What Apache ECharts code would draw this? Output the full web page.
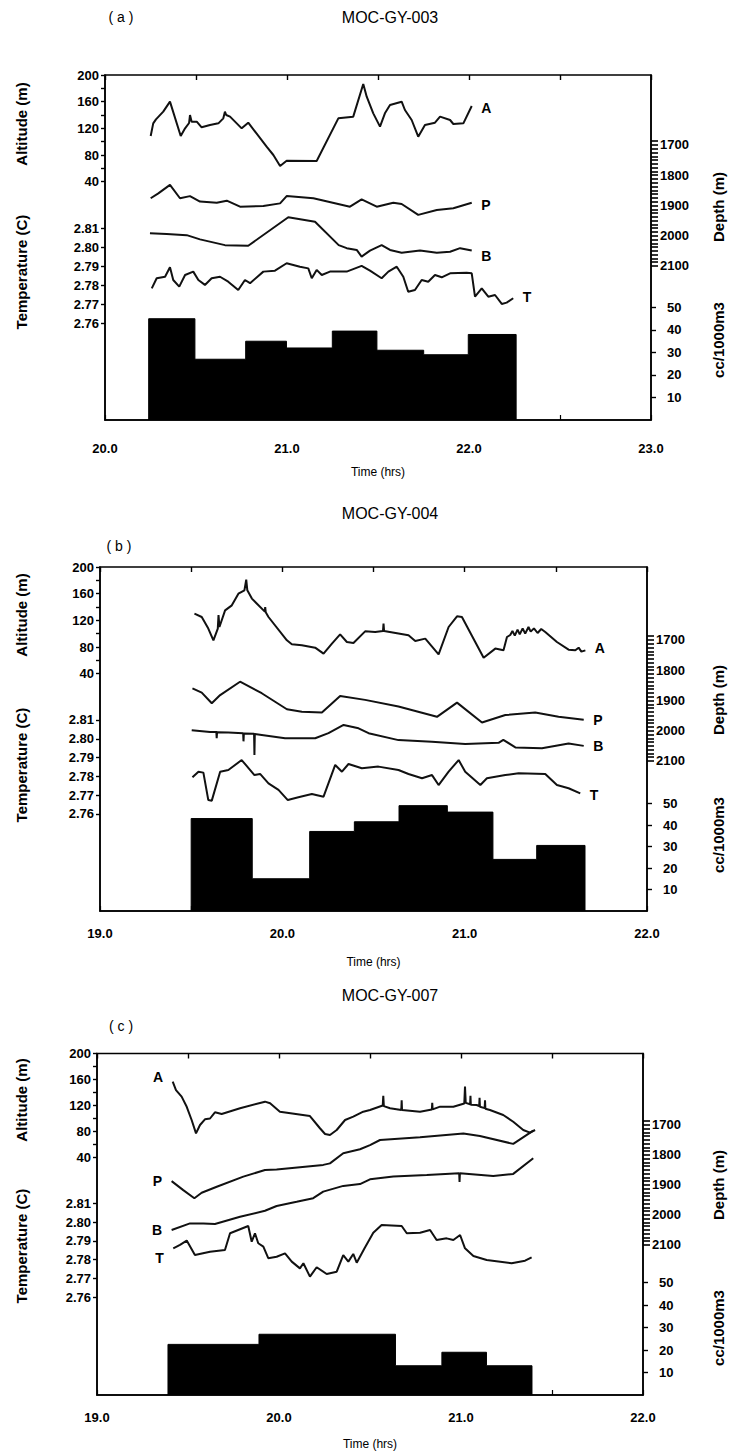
<!DOCTYPE html>
<html><head><meta charset="utf-8">
<script src="https://cdn.jsdelivr.net/npm/echarts@6/dist/echarts.min.js"></script>
<style>html,body{margin:0;padding:0;background:#fff}#c{width:734px;height:1454px}</style>
</head><body><div id="c"></div>
<script>
// ---------------- DATA (time in hrs, values in axis units) ----------------
// Panel (a) MOC-GY-003
const aAltitude = [[20.251,108.5],[20.265,127.5],[20.280,133.5],[20.320,145],[20.357,160],[20.416,108.5],[20.440,120],[20.462,128],[20.467,140],[20.476,130],[20.504,130],[20.531,121.5],[20.577,125],[20.623,127.5],[20.650,135],[20.659,145],[20.666,140],[20.687,137.5],[20.751,120],[20.787,128.5],[20.888,92.5],[20.925,80],[20.962,63.5],[20.998,71.5],[21.163,71],[21.282,135],[21.364,137.5],[21.419,186.5],[21.438,167.5],[21.474,142.5],[21.511,122.5],[21.538,142.5],[21.566,155],[21.630,160],[21.648,147.5],[21.685,132.5],[21.721,107.5],[21.758,125],[21.813,128.5],[21.841,137.5],[21.896,132.5],[21.914,126.5],[21.969,127.5],[22.015,153.5]];
const aDepthP = [[20.251,1876],[20.293,1860],[20.357,1832],[20.412,1876],[20.467,1869],[20.522,1887],[20.614,1891],[20.669,1884],[20.742,1904],[20.870,1902],[20.962,1893],[20.998,1869],[21.145,1876],[21.346,1904],[21.410,1880],[21.493,1904],[21.584,1891],[21.630,1895],[21.721,1931],[21.823,1915],[21.914,1909],[22.015,1891]];
const aDepthB = [[20.247,1992],[20.339,1994],[20.449,1998],[20.522,2012],[20.659,2031],[20.787,2033],[21.007,1939],[21.154,1954],[21.284,2031],[21.328,2041],[21.383,2047],[21.410,2069],[21.456,2049],[21.520,2031],[21.566,2047],[21.630,2056],[21.731,2049],[21.823,2056],[21.896,2053],[21.951,2041],[22.015,2049]];
const aTemp = [[20.257,2.7784],[20.284,2.7837],[20.330,2.7845],[20.357,2.7895],[20.375,2.7828],[20.408,2.7793],[20.440,2.7854],[20.485,2.7872],[20.513,2.7828],[20.549,2.7802],[20.586,2.7837],[20.632,2.7845],[20.677,2.7819],[20.732,2.7775],[20.769,2.7828],[20.797,2.7811],[20.870,2.7872],[20.934,2.7877],[20.998,2.7916],[21.071,2.7898],[21.117,2.7889],[21.136,2.7837],[21.163,2.7881],[21.191,2.7854],[21.236,2.7872],[21.328,2.7872],[21.410,2.7902],[21.456,2.7877],[21.520,2.7837],[21.557,2.7872],[21.603,2.7898],[21.639,2.7845],[21.666,2.7766],[21.703,2.7775],[21.740,2.7828],[21.776,2.7819],[21.813,2.7854],[21.850,2.7842],[21.896,2.7863],[21.987,2.7866],[22.015,2.7863],[22.033,2.7740],[22.070,2.7784],[22.106,2.7740],[22.143,2.7749],[22.180,2.7702],[22.207,2.7709],[22.243,2.7732]];
const aBarEdges = [20.24,20.494,20.773,20.997,21.249,21.494,21.751,21.996,22.259];
const aBarValues = [45,27,35,32,39.5,31,29,38];

// Panel (b) MOC-GY-004
const bAltitude = [[19.518,130],[19.558,125],[19.594,107.6],[19.622,90],[19.646,107.6],[19.650,128],[19.655,110],[19.686,135],[19.723,142.5],[19.759,160],[19.792,165],[19.802,181],[19.808,165],[19.833,152.6],[19.904,133],[19.906,140],[19.909,132],[19.924,125],[20.025,90],[20.052,84],[20.107,82.5],[20.180,79],[20.226,70],[20.272,85],[20.317,99],[20.354,87.5],[20.390,86],[20.454,103.5],[20.509,102.5],[20.552,104],[20.555,115],[20.558,104],[20.692,97.5],[20.729,89],[20.784,92.6],[20.857,69],[20.912,110],[20.958,126],[20.985,125],[21.058,87.5],[21.104,64],[21.168,77.6],[21.213,75],[21.232,95],[21.250,98],[21.262,104],[21.275,97],[21.290,106],[21.302,99],[21.318,108],[21.332,100],[21.350,110],[21.362,103],[21.380,108],[21.400,101],[21.420,107],[21.442,102.5],[21.506,87.5],[21.570,76],[21.607,75],[21.625,79],[21.640,73],[21.662,75]];
const bDepthP = [[19.507,1860],[19.558,1874],[19.613,1909],[19.659,1882],[19.768,1838],[19.887,1876],[20.025,1929],[20.107,1937],[20.217,1940],[20.317,1885],[20.454,1898],[20.637,1920],[20.848,1954],[20.958,1907],[21.095,1973],[21.223,1948],[21.387,1940],[21.515,1954],[21.653,1964]];
const bDepthB = [[19.503,1998],[19.604,2004],[19.638,2004],[19.640,2025],[19.642,2005],[19.704,2006],[19.785,2008],[19.787,2035],[19.789,2009],[19.845,2010],[19.847,2080],[19.849,2011],[19.887,2014],[20.015,2025],[20.180,2025],[20.253,2008],[20.336,1981],[20.418,1992],[20.473,2008],[20.637,2031],[20.820,2036],[21.003,2044],[21.186,2040],[21.212,2030],[21.278,2055],[21.424,2058],[21.570,2042],[21.653,2050]];
const bTemp = [[19.507,2.7795],[19.540,2.7825],[19.567,2.7820],[19.594,2.7674],[19.613,2.7671],[19.659,2.7825],[19.704,2.7834],[19.777,2.7887],[19.847,2.7807],[19.878,2.7813],[19.924,2.7763],[19.979,2.7728],[20.030,2.7674],[20.088,2.7689],[20.162,2.7706],[20.226,2.7692],[20.290,2.7861],[20.327,2.7825],[20.363,2.7866],[20.436,2.7843],[20.527,2.7852],[20.637,2.7834],[20.692,2.7813],[20.766,2.7790],[20.821,2.7807],[20.857,2.7754],[20.912,2.7825],[20.967,2.7887],[21.003,2.7825],[21.086,2.7754],[21.122,2.7790],[21.223,2.7807],[21.296,2.7817],[21.442,2.7813],[21.506,2.7754],[21.570,2.7737],[21.634,2.7710]];
const bBarEdges = [19.5,19.835,20.15,20.395,20.64,20.905,21.155,21.395,21.66];
const bBarValues = [43,15,37,41.5,49,46,24,30.5];

// Panel (c) MOC-GY-007
const cAltitude = [[19.416,156.6],[19.434,143.8],[19.465,133.6],[19.493,118],[19.520,97.7],[19.544,77.2],[19.566,90],[19.593,98.7],[19.621,100],[19.648,109.5],[19.685,107],[19.786,115.7],[19.923,125.9],[19.951,123.4],[20.005,110.5],[20.170,103.8],[20.225,85],[20.253,76.2],[20.280,74.6],[20.317,82.3],[20.363,97.7],[20.408,102.8],[20.463,110.5],[20.500,113],[20.570,120],[20.573,135],[20.576,119],[20.610,115.7],[20.672,113],[20.674,128],[20.676,113],[20.775,110.5],[20.840,114],[20.842,124],[20.844,114],[20.885,118.2],[20.958,118.2],[21.018,123],[21.022,149],[21.026,124],[21.050,122],[21.052,135],[21.054,121],[21.086,120.8],[21.100,119],[21.102,132],[21.104,118],[21.130,116],[21.132,128],[21.134,115],[21.159,113],[21.232,105.4],[21.287,95],[21.342,82.3],[21.379,78.2],[21.407,82.3]];
const cDepthP = [[19.410,1887],[19.474,1917],[19.535,1944],[19.575,1926],[19.658,1906],[19.804,1872],[19.923,1850],[19.987,1848],[20.243,1833],[20.280,1828],[20.353,1794],[20.445,1781],[20.500,1767],[20.555,1750],[20.775,1741],[21.013,1728],[21.104,1737],[21.287,1763],[21.397,1719]];
const cDepthB = [[19.410,2050],[19.511,2028],[19.584,2028],[19.648,2030],[19.786,2006],[19.923,1986],[19.987,1970],[20.097,1956],[20.188,1944],[20.243,1922],[20.353,1903],[20.445,1897],[20.500,1881],[20.628,1872],[20.812,1867],[20.990,1861],[20.992,1890],[20.994,1861],[21.177,1870],[21.287,1863],[21.397,1811]];
const cTemp = [[19.419,2.7860],[19.456,2.7878],[19.493,2.7901],[19.538,2.7824],[19.621,2.7842],[19.703,2.7851],[19.731,2.7940],[19.831,2.7979],[19.850,2.7895],[19.868,2.7940],[19.886,2.7887],[19.914,2.7869],[19.941,2.7807],[19.987,2.7815],[20.033,2.7833],[20.070,2.7789],[20.115,2.7753],[20.134,2.7780],[20.170,2.7709],[20.207,2.7759],[20.262,2.7723],[20.317,2.7735],[20.353,2.7824],[20.381,2.7789],[20.408,2.7830],[20.427,2.7783],[20.470,2.7860],[20.518,2.7943],[20.564,2.7984],[20.674,2.7979],[20.702,2.7940],[20.775,2.7943],[20.830,2.7958],[20.866,2.7904],[20.921,2.7913],[20.958,2.7904],[20.995,2.7931],[21.022,2.7860],[21.068,2.7819],[21.141,2.7798],[21.278,2.7780],[21.352,2.7794],[21.388,2.7812]];
const cBarEdges = [19.39,19.89,20.64,20.895,21.14,21.39];
const cBarValues = [22.5,27,13,19,13];

// Tick labels
const altLabels = [40,80,120,160,200];
const altTicks = [40,60,80,100,120,140,160,180,200];
const tempLabels = [2.76,2.77,2.78,2.79,2.80,2.81];
const depthLabels = [1700,1800,1900,2000,2100];
const depthTicks = []; for (let d = 1687.5; d <= 2100.01; d += 12.5) depthTicks.push(d);
const ccLabels = [10,20,30,40,50];
const aTimeLabels = [20,21,22,23];
const bcTimeLabels = [19,20,21,22];
const titles = ['MOC-GY-003','MOC-GY-004','MOC-GY-007'];
const tags = ['( a )','( b )','( c )'];

// ---------------- LAYOUT ----------------
const FF = '"Liberation Sans", Arial, Helvetica, sans-serif';
const panels = [
  {left:105, top:75, width:546, height:345, x:[20,23], timeLabels:aTimeLabels, labelMargin:22, nameGap:46,
   alt:[-317.5,200], temp:[2.70911,2.89068], depth:[1468.6,2609.1], cc:[0,153.3],
   A:aAltitude, P:aDepthP, B:aDepthB, T:aTemp, edges:aBarEdges, vals:aBarValues,
   side:'end', off:{A:[0,2],P:[0,2],B:[0,5],T:[0,-1]},
   titleY:17, tagX:121, tagY:17, altY:124, tempY:272, depthY:207, ccY:340},
  {left:100, top:567, width:547, height:344, x:[19,22], timeLabels:bcTimeLabels, labelMargin:16, nameGap:45,
   alt:[-316,200], temp:[2.70840,2.89138], depth:[1458.7,2595.9], cc:[0,160],
   A:bAltitude, P:bDepthP, B:bDepthB, T:bTemp, edges:bBarEdges, vals:bBarValues,
   side:'end', off:{A:[0,-2],P:[0,0],B:[0,0],T:[0,2]},
   titleY:513, tagX:119, tagY:546, altY:615, tempY:765, depthY:700, ccY:835},
  {left:97, top:1053.5, width:546, height:341.5, x:[19,22], timeLabels:bcTimeLabels, labelMargin:16, nameGap:43,
   alt:[-325.4,200], temp:[2.70776,2.88989], depth:[1461.7,2600], cc:[0,151.8],
   A:cAltitude, P:cDepthP, B:cDepthB, T:cTemp, edges:cBarEdges, vals:cBarValues,
   side:'start', off:{A:[0,-5],P:[0,0],B:[0,0],T:[0,10]},
   titleY:995, tagX:121, tagY:1026, altY:1100, tempY:1246, depthY:1185, ccY:1328}
];

const grid = [], xAxis = [], yAxis = [], series = [], graphic = [];
const black = '#000';
const lblStyle = {color:black, fontSize:13, fontWeight:'bold', fontFamily:FF};

function halfTicks(r){ const t=[]; for(let v=r[0]; v<=r[1]+1e-9; v+=0.5) t.push(+v.toFixed(2)); return t; }
function barPoly(edges, vals){
  const pts = [[edges[0],0]];
  for (let i=0;i<vals.length;i++){ pts.push([edges[i],vals[i]]); pts.push([edges[i+1],vals[i]]); }
  pts.push([edges[edges.length-1],0]);
  return pts;
}
function lineSeries(data, xi, yi, name, side, off){
  const pt = side==='end' ? data[data.length-1] : data[0];
  return {type:'line', name, xAxisIndex:xi, yAxisIndex:yi, data, showSymbol:false, symbol:'none',
    lineStyle:{color:'#111', width:2}, animation:false, silent:true, z:3,
    markPoint:{symbol:'circle', symbolSize:1, itemStyle:{color:'rgba(0,0,0,0)'}, silent:true, animation:false,
      data:[{coord:pt, label:{show:true, formatter:name, position: side==='end'?'right':'left', distance:9,
        offset:off, color:black, fontSize:14, fontWeight:'bold', fontFamily:FF}}]}};
}

panels.forEach((p, i) => {
  grid.push({left:p.left, top:p.top, width:p.width, height:p.height, show:true,
    borderColor:black, borderWidth:1.5, backgroundColor:'transparent'});
  const ht = halfTicks(p.x);
  xAxis.push({type:'value', gridIndex:i, position:'bottom', min:p.x[0], max:p.x[1],
    axisLine:{show:true, onZero:false, lineStyle:{color:black, width:1.5}},
    axisTick:{show:true, inside:true, length:5, customValues:ht, lineStyle:{color:black, width:1.2}},
    axisLabel:Object.assign({customValues:p.timeLabels, margin:p.labelMargin, formatter:v=>Number(v).toFixed(1)}, lblStyle),
    splitLine:{show:false},
    name:'Time (hrs)', nameLocation:'middle', nameGap:p.nameGap,
    nameTextStyle:{color:black, fontSize:12, fontFamily:FF}});
  xAxis.push({type:'value', gridIndex:i, position:'top', min:p.x[0], max:p.x[1],
    axisLine:{show:false, onZero:false}, axisTick:{show:true, inside:true, length:5, customValues:ht, lineStyle:{color:black, width:1.4}},
    axisLabel:{show:false}, splitLine:{show:false}});
  // altitude
  yAxis.push({type:'value', gridIndex:i, position:'left', min:p.alt[0], max:p.alt[1],
    axisLine:{show:true, onZero:false, lineStyle:{color:black, width:1.5}},
    axisTick:{show:true, length:4, customValues:altTicks, lineStyle:{color:black, width:1.4}},
    axisLabel:Object.assign({customValues:altLabels, margin:6, formatter:v=>String(v)}, lblStyle), splitLine:{show:false}});
  // temperature
  yAxis.push({type:'value', gridIndex:i, position:'left', min:p.temp[0], max:p.temp[1],
    axisLine:{show:false, onZero:false}, axisTick:{show:true, length:4, customValues:tempLabels, lineStyle:{color:black, width:1.4}},
    axisLabel:Object.assign({customValues:tempLabels, margin:6, formatter:v=>Number(v).toFixed(2)}, lblStyle), splitLine:{show:false}});
  // depth
  yAxis.push({type:'value', gridIndex:i, position:'right', inverse:true, min:p.depth[0], max:p.depth[1],
    axisLine:{show:true, onZero:false, lineStyle:{color:black, width:1.5}},
    axisTick:{show:true, length:7, customValues:depthTicks, lineStyle:{color:black, width:1.6}},
    axisLabel:Object.assign({customValues:depthLabels, margin:9, formatter:v=>String(Math.round(v))}, lblStyle), splitLine:{show:false}});
  // cc/1000m3
  yAxis.push({type:'value', gridIndex:i, position:'right', min:p.cc[0], max:p.cc[1],
    axisLine:{show:false, onZero:false}, axisTick:{show:true, length:5, customValues:ccLabels, lineStyle:{color:black, width:1.4}},
    axisLabel:Object.assign({customValues:ccLabels, margin:16, formatter:v=>String(v)}, lblStyle), splitLine:{show:false}});

  const xi = i*2, yb = i*4;
  series.push({type:'line', xAxisIndex:xi, yAxisIndex:yb+3, data:barPoly(p.edges, p.vals), showSymbol:false, symbol:'none',
    lineStyle:{color:black, width:1}, areaStyle:{color:black, opacity:1}, animation:false, silent:true, z:2});
  series.push(lineSeries(p.A, xi, yb, 'A', p.side, p.off.A));
  series.push(lineSeries(p.P, xi, yb+2, 'P', p.side, p.off.P));
  series.push(lineSeries(p.B, xi, yb+2, 'B', p.side, p.off.B));
  series.push(lineSeries(p.T, xi, yb+1, 'T', p.side, p.off.T));

  const txt = (x, y, text, font, rot) => ({type:'text', x, y, rotation:rot||0, silent:true,
    style:{text, x:0, y:0, textAlign:'center', textVerticalAlign:'middle', font, fill:black}});
  graphic.push(txt(390, p.titleY, titles[i], '16px '+FF));
  graphic.push(txt(p.tagX, p.tagY, tags[i], '14px '+FF));
  graphic.push(txt(21, p.altY, 'Altitude (m)', 'bold 15px '+FF, Math.PI/2));
  graphic.push(txt(21, p.tempY, 'Temperature (C)', 'bold 15px '+FF, Math.PI/2));
  graphic.push(txt(718, p.depthY, 'Depth (m)', 'bold 15px '+FF, Math.PI/2));
  graphic.push(txt(718, p.ccY, 'cc/1000m3', 'bold 15px '+FF, Math.PI/2));
});

const chart = echarts.init(document.getElementById('c'), null, {renderer:'svg', width:734, height:1454});
chart.setOption({backgroundColor:'#fff', animation:false, grid, xAxis, yAxis, series, graphic});
</script></body></html>
